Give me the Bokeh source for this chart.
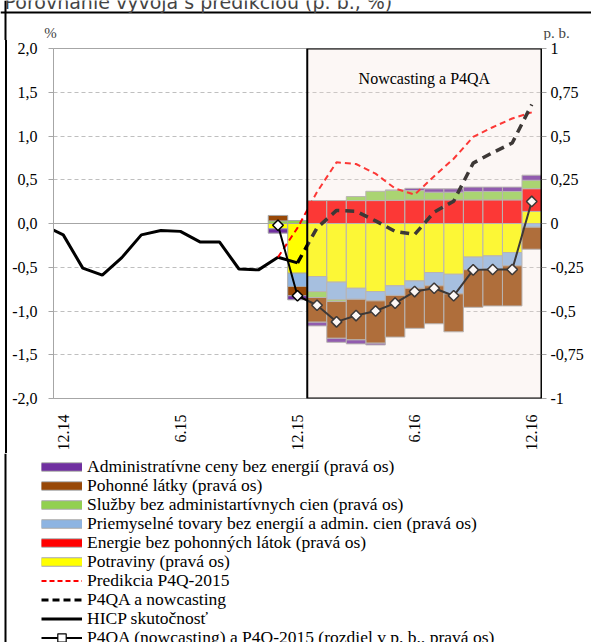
import numpy as np
from bokeh.plotting import figure
from bokeh.models import (ColumnDataSource, Range1d, LinearAxis, FixedTicker, Span,
                          BoxAnnotation, Label, Legend, LegendItem)
from bokeh.embed import file_html
from bokeh.resources import INLINE

# ---------------- data ----------------
months = ["11.14", "12.14", "1.15", "2.15", "3.15", "4.15", "5.15", "6.15", "7.15",
          "8.15", "9.15", "10.15", "11.15", "12.15", "1.16", "2.16", "3.16", "4.16",
          "5.16", "6.16", "7.16", "8.16", "9.16", "10.16", "11.16", "12.16"]
tick_months = ["12.14", "6.15", "12.15", "6.16", "12.16"]

# HICP actual (%), 11.14 .. 12.15
hicp_months = ["11.14", "12.14", "1.15", "2.15", "3.15", "4.15", "5.15", "6.15",
               "7.15", "8.15", "9.15", "10.15", "11.15", "12.15"]
hicp = [-0.02, -0.13, -0.51, -0.59, -0.39, -0.13, -0.08, -0.09, -0.21, -0.21,
        -0.52, -0.53, -0.385, -0.45]

# Predikcia P4Q-2015 (%), 11.15 .. 12.16
pred_months = ["11.15", "12.15", "1.16", "2.16", "3.16", "4.16", "5.16", "6.16",
               "7.16", "8.16", "9.16", "10.16", "11.16", "12.16"]
pred = [-0.385, -0.05, 0.36, 0.70, 0.68, 0.57, 0.40, 0.33, 0.54, 0.74, 0.99, 1.10, 1.20, 1.27]

# P4QA a nowcasting (%), 12.15 .. 12.16
p4qa_months = ["12.15", "1.16", "2.16", "3.16", "4.16", "5.16", "6.16", "7.16",
               "8.16", "9.16", "10.16", "11.16", "12.16"]
p4qa = [-0.45, -0.05, 0.15, 0.14, 0.03, -0.09, -0.125, 0.13, 0.255, 0.69, 0.81, 0.92, 1.36]

# contributions (p. b., right axis), 11.15 .. 12.16
bar_months = pred_months
potraviny = [-0.03, -0.284, -0.303, -0.335, -0.37, -0.389, -0.356, -0.328, -0.28, -0.29,
             -0.192, -0.185, -0.166, 0.069]
energie = [0.0, 0.0, 0.131, 0.131, 0.131, 0.131, 0.133, 0.135, 0.135, 0.135,
           0.135, 0.135, 0.135, 0.13]
priemyselne = [0.0, -0.076, -0.086, -0.101, -0.063, -0.053, -0.055, -0.042, -0.076, -0.112,
               -0.072, -0.076, -0.076, -0.021]
sluzby = [0.015, 0.017, -0.034, -0.01, 0.023, 0.053, 0.057, 0.053, 0.044, 0.044,
          0.048, 0.048, 0.048, 0.048]
pohonne = [0.031, -0.053, -0.141, -0.21, -0.232, -0.242, -0.238, -0.229, -0.217, -0.217,
           -0.215, -0.21, -0.229, -0.126]
admin = [-0.025, -0.023, -0.021, -0.023, -0.023, -0.01, 0.0, 0.013, 0.019, 0.019,
         0.025, 0.025, 0.025, 0.029]
# P4QA (nowcasting) a P4Q-2015 difference (p. b., right axis)
rozdiel = [-0.01, -0.413, -0.467, -0.562, -0.526, -0.50, -0.455, -0.389, -0.37, -0.413,
           -0.265, -0.263, -0.263, 0.126]

left_ticks = [-2.0, -1.5, -1.0, -0.5, 0.0, 0.5, 1.0, 1.5, 2.0]
left_labels = ["-2,0", "-1,5", "-1,0", "-0,5", "0,0", "0,5", "1,0", "1,5", "2,0"]
right_ticks = [-1.0, -0.75, -0.5, -0.25, 0.0, 0.25, 0.5, 0.75, 1.0]
right_labels = ["-1", "-0,75", "-0,5", "-0,25", "0", "0,25", "0,5", "0,75", "1"]

series = [
    ("Potraviny (pravá os)", potraviny, "#FFFF00"),
    ("Energie bez pohonných látok (pravá os)", energie, "#FF0000"),
    ("Priemyselné tovary bez energií a admin. cien (pravá os)", priemyselne, "#8DB4E2"),
    ("Služby bez administartívnych cien (pravá os)", sluzby, "#92D050"),
    ("Pohonné látky (pravá os)", pohonne, "#984807"),
    ("Administratívne ceny bez energií (pravá os)", admin, "#7030A0"),
]
line_labels = ["Predikcia P4Q-2015", "P4QA a nowcasting", "HICP skutočnosť",
               "P4QA (nowcasting) a P4Q-2015 (rozdiel v p. b., pravá os)"]
title_text = "Porovnanie vývoja s predikciou (p. b., %)"

SERIF = "Liberation Serif"
W = 591
TOP_H, LEG_H = 40, 190
NAN = float("nan")
ROW_FIRST, ROW_STEP, ROW_H = 13, 19, 21   # legend row layout (px)
FRAME_X, FRAME_Y = 5, 12                  # outer frame of the picture (px)


def plain_fig(h, yr):
    f = figure(width=W, height=h, x_range=Range1d(0, W), y_range=yr,
               min_border=0, x_axis_type=None, y_axis_type=None,
               output_backend="svg", toolbar_location=None)
    f.grid.grid_line_color = None
    f.outline_line_color = None
    f.background_fill_alpha = 0
    f.border_fill_alpha = 0
    return f


def frame_span(loc, dim):
    return Span(location=loc, dimension=dim, line_color="black", line_width=2)


# ---------------- top strip: title, units, outer frame ----------------
top = plain_fig(TOP_H, Range1d(TOP_H, 0))
top.add_layout(frame_span(FRAME_Y, "width"))
top.add_layout(frame_span(FRAME_X, "height"))
top.add_layout(Label(x=4, y=1.5, text=title_text, text_font="DejaVu Sans",
                     text_font_size="19px", text_align="left", text_baseline="alphabetic"))
top.add_layout(Label(x=50, y=32, text="%", text_font=SERIF, text_font_size="15px",
                     text_align="center", text_baseline="middle"))
top.add_layout(Label(x=556, y=32, text="p. b.", text_font=SERIF, text_font_size="15px",
                     text_align="center", text_baseline="middle"))

# ---------------- main chart ----------------
idx = {m: i for i, m in enumerate(months)}
x_start = idx["12.14"] - 0.5
x_end = len(months) - 0.5

p = figure(frame_width=488, frame_height=350,
           min_border_left=53, min_border_right=50, min_border_top=8, min_border_bottom=54,
           x_range=Range1d(x_start, x_end), y_range=Range1d(-2, 2),
           output_backend="svg", toolbar_location=None)
p.extra_y_ranges = {"right": Range1d(-1, 1)}
p.background_fill_color = "white"
p.border_fill_alpha = 0
p.styles = {"background": "linear-gradient(#000, #000) 5px 0px / 2px 100% no-repeat"}
p.outline_line_color = "#A6A6A6"
p.outline_line_width = 1

p.xgrid.grid_line_color = None
p.ygrid.ticker = FixedTicker(ticks=left_ticks)
p.ygrid.grid_line_color = "#BFBFBF"
p.ygrid.grid_line_dash = "4 3"
p.add_layout(Span(location=0, dimension="width", line_color="#A6A6A6", line_width=1,
                  level="underlay"))

# stacked bars (positive and negative parts stacked separately)
xb = [idx[m] for m in bar_months]
pos = np.zeros(len(xb))
neg = np.zeros(len(xb))
for name, vals, col in series:
    v = np.array(vals, dtype=float)
    bottom = np.where(v >= 0, pos, neg)
    topv = bottom + v
    pos = np.where(v >= 0, topv, pos)
    neg = np.where(v < 0, topv, neg)
    src = ColumnDataSource(dict(x=xb, bottom=bottom, top=topv))
    p.vbar(x="x", bottom="bottom", top="top", width=1.0, source=src, y_range_name="right",
           fill_color=col, line_color="#A6A6A6", line_width=1)

# lines
p.line([idx[m] for m in hicp_months], hicp, line_color="black", line_width=3)
p.line([idx[m] for m in pred_months], pred, line_color="#FF0000", line_width=2, line_dash="6 4")
p.line([idx[m] for m in p4qa_months], p4qa, line_color="black", line_width=3.5, line_dash="9 6")
p.line(xb, rozdiel, y_range_name="right", line_color="black", line_width=2)
p.scatter(xb, rozdiel, y_range_name="right", marker="square", angle=np.pi / 4, size=7.5,
          fill_color="white", line_color="black", line_width=1.5)

# nowcasting box (semi-transparent overlay)
p.add_layout(BoxAnnotation(left=idx["1.16"] - 0.5, fill_color="#F5E1D7", fill_alpha=0.25,
                           line_color="black", line_alpha=1.0, line_width=2))
p.add_layout(Label(x=(idx["1.16"] - 0.5 + x_end) / 2, y=2.0, y_offset=-30,
                   text="Nowcasting a P4QA", text_font=SERIF, text_font_size="16px",
                   text_align="center", text_baseline="middle", text_color="black"))

# axes
p.xaxis.ticker = FixedTicker(ticks=[idx[m] for m in tick_months])
p.xaxis.major_label_overrides = {idx[m]: m for m in tick_months}
p.xaxis.major_label_orientation = np.pi / 2
p.xaxis.axis_line_color = "#A6A6A6"
p.xaxis.major_tick_line_color = None
p.xaxis.minor_tick_line_color = None
p.xaxis.major_label_standoff = 10
p.xaxis.major_label_text_font = SERIF
p.xaxis.major_label_text_font_size = "16px"
p.xaxis.major_label_text_color = "black"

p.yaxis.ticker = FixedTicker(ticks=left_ticks)
p.yaxis.major_label_overrides = dict(zip(left_ticks, left_labels))
p.yaxis.axis_line_color = "#A6A6A6"
p.yaxis.major_tick_line_color = "#A6A6A6"
p.yaxis.major_tick_in = 0
p.yaxis.major_tick_out = 5
p.yaxis.minor_tick_line_color = None
p.yaxis.major_label_standoff = 11
p.yaxis.major_label_text_font = SERIF
p.yaxis.major_label_text_font_size = "16px"
p.yaxis.major_label_text_color = "black"

ra = LinearAxis(y_range_name="right", ticker=FixedTicker(ticks=right_ticks))
ra.major_label_overrides = dict(zip(right_ticks, right_labels))
ra.axis_line_color = "black"
ra.major_tick_line_color = "#A6A6A6"
ra.major_tick_in = 0
ra.major_tick_out = 5
ra.minor_tick_line_color = None
ra.major_label_standoff = 4
ra.major_label_text_font = SERIF
ra.major_label_text_font_size = "16px"
ra.major_label_text_color = "black"
p.add_layout(ra, "right")

# ---------------- legend strip ----------------
lg = plain_fig(LEG_H, Range1d(0, LEG_H))
lg.add_layout(frame_span(FRAME_X, "height"))
items = []
for name, vals, col in reversed(series):
    b = lg.line([NAN], [NAN], line_color="#A6A6A6", line_width=9.5)
    f = lg.line([NAN], [NAN], line_color=col, line_width=7.5)
    items.append(LegendItem(label=name, renderers=[b, f]))
l1 = lg.line([NAN], [NAN], line_color="#FF0000", line_width=2, line_dash="5 3")
l2 = lg.line([NAN], [NAN], line_color="black", line_width=3, line_dash="7 4")
l3 = lg.line([NAN], [NAN], line_color="black", line_width=3)
l4 = lg.line([NAN], [NAN], line_color="black", line_width=2)
l4m = lg.scatter([NAN], [NAN], marker="square", angle=np.pi / 4, size=6, fill_color="white",
                 line_color="black", line_width=1.2)
for lab, rs in zip(line_labels, [[l1], [l2], [l3], [l4, l4m]]):
    items.append(LegendItem(label=lab, renderers=rs))

# one single-row legend per entry, so that the row pitch matches the original
for i, it in enumerate(items):
    center = ROW_FIRST + ROW_STEP * i
    lg.add_layout(Legend(items=[it], location=(41, LEG_H - center - ROW_H / 2),
                         orientation="vertical", glyph_width=41, glyph_height=ROW_H,
                         label_height=ROW_H, spacing=0, label_standoff=5, padding=0, margin=0,
                         border_line_color=None, background_fill_alpha=0,
                         label_text_font=SERIF, label_text_font_size="17.5px",
                         label_text_color="black"), "center")

open("out.html", "w").write(file_html([top, p, lg], INLINE))
